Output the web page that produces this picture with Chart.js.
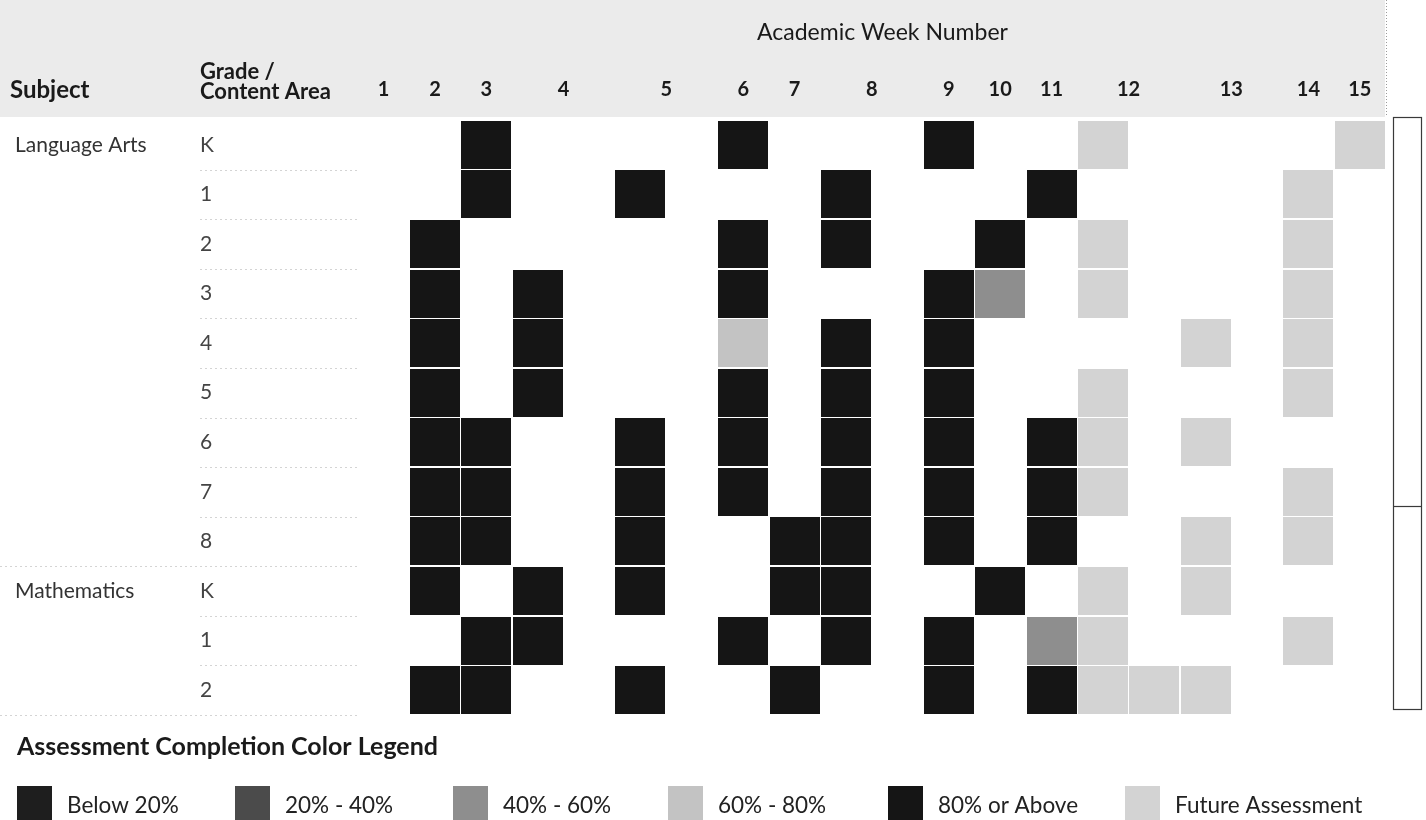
<!DOCTYPE html>
<html>
<head>
<meta charset="utf-8">
<title>Assessment Completion by Academic Week</title>
<script src="https://cdn.jsdelivr.net/npm/chart.js@4.4.1/dist/chart.umd.min.js"></script>
<style>
  html, body { margin: 0; padding: 0; background: #fff; }
  #wrap { position: relative; width: 1426px; height: 820px; }
</style>
</head>
<body>
<div id="wrap"><canvas id="assessmentChart"></canvas></div>
<script>
// Week header labels and how many assessment sub-columns each week takes
const weeks = ['1', '2', '3', '4', '5', '6', '7', '8', '9', '10', '11', '12', '13', '14', '15'];
const weekColumns = [1, 1, 1, 2, 2, 1, 1, 2, 1, 1, 1, 2, 2, 1, 1];

// Rows: subject groups and grade / content area labels
const subjects = ['Language Arts', 'Mathematics'];
const subjectRowCounts = [9, 3];
const grades = ['K', '1', '2', '3', '4', '5', '6', '7', '8', 'K', '1', '2'];

// Week numbers of each assessment, one list per row (same order as grades)
const below20Weeks = [[], [], [], [], [], [], [], [], [], [], [], []];
const pct20to40Weeks = [[], [], [], [], [], [], [], [], [], [], [], []];
const pct40to60Weeks = [[], [], [], [10], [], [], [], [], [], [], [11], []];
const pct60to80Weeks = [[], [], [], [], [6], [], [], [], [], [], [], []];
const above80Weeks = [
    [3, 6, 9],
    [3, 5, 8, 11],
    [2, 6, 8, 10],
    [2, 4, 6, 9],
    [2, 4, 8, 9],
    [2, 4, 6, 8, 9],
    [2, 3, 5, 6, 8, 9, 11],
    [2, 3, 5, 6, 8, 9, 11],
    [2, 3, 5, 7, 8, 9, 11],
    [2, 4, 5, 7, 8, 10],
    [3, 4, 6, 8, 9],
    [2, 3, 5, 7, 9, 11]
];
const futureWeeks = [
    [12, 15],
    [14],
    [12, 14],
    [12, 14],
    [13, 14],
    [12, 14],
    [12, 13],
    [12, 14],
    [13, 14],
    [12, 13],
    [12, 14],
    [12, 12, 13]
];

const statusLabels = ['Below 20%', '20% - 40%', '40% - 60%', '60% - 80%', '80% or Above', 'Future Assessment'];
const statusColors = ['#1e1e1e', '#4b4b4b', '#8e8e8e', '#c3c3c3', '#151515', '#d3d3d3'];
const statusWeeks = [below20Weeks, pct20to40Weeks, pct40to60Weeks, pct60to80Weeks, above80Weeks, futureWeeks];

const FONT = 'Lato, "Open Sans", sans-serif';

// first sub-column of every week (week 1 sits at -1 so week 2 starts at 0)
const weekStart = [];
weeks.reduce((slot, w, i) => {
    weekStart.push(slot);
    return slot + weekColumns[i];
}, -1);

// turn the per-row week lists into x/y points; a repeated week uses its next sub-column
const toPoints = (rows) => {
    const points = [];
    rows.forEach((list, row) => {
        const used = {};
        list.forEach((w) => {
            const n = used[w] || 0;
            used[w] = n + 1;
            points.push({ x: weekStart[w - 1] + n, y: row });
        });
    });
    return points;
};

// one filled tile per status, used as the point style
const cellTile = (color) => {
    const c = document.createElement('canvas');
    c.width = 50;
    c.height = 48;
    const g = c.getContext('2d');
    g.fillStyle = color;
    g.fillRect(0, 0, c.width, c.height);
    return c;
};

// header band, row labels, scrollbar and the colour legend
const tableChrome = {
    id: 'tableChrome',
    beforeDraw(chart) {
        const { ctx, chartArea } = chart;
        ctx.save();
        ctx.fillStyle = '#ebebeb';
        ctx.fillRect(0, 0, chartArea.right, chartArea.top - 3);
        ctx.strokeStyle = '#9a9a9a';
        ctx.setLineDash([1, 2]);
        ctx.beginPath();
        ctx.moveTo(chartArea.right + 1.5, 0);
        ctx.lineTo(chartArea.right + 1.5, chartArea.top - 3);
        ctx.stroke();
        ctx.restore();
    },
    afterDraw(chart) {
        const { ctx, chartArea } = chart;
        const yScale = chart.scales.y;
        ctx.save();

        // column headers
        ctx.fillStyle = '#1a1a1a';
        ctx.textBaseline = 'middle';
        ctx.textAlign = 'left';
        ctx.font = 'bold 24px ' + FONT;
        ctx.fillText('Subject', 10, 90);
        ctx.font = 'bold 22px ' + FONT;
        ctx.fillText('Grade /', 200, 72);
        ctx.fillText('Content Area', 200, 92);

        // subject labels and row separators
        ctx.font = '21px ' + FONT;
        ctx.fillStyle = '#333';
        let first = 0;
        subjects.forEach((s, i) => {
            ctx.fillText(s, 15, yScale.getPixelForValue(first));
            first += subjectRowCounts[i];
        });
        ctx.strokeStyle = '#d4d4d4';
        ctx.lineWidth = 1;
        ctx.setLineDash([2, 3]);
        const boundary = subjectRowCounts[0] - 1;
        for (let r = 0; r < grades.length; r++) {
            const y = Math.round(yScale.getPixelForValue(r + 0.5)) + 0.5;
            const x0 = (r === boundary || r === grades.length - 1) ? 0 : 200;
            ctx.beginPath();
            ctx.moveTo(x0, y);
            ctx.lineTo(chartArea.left - 20, y);
            ctx.stroke();
        }
        ctx.setLineDash([]);

        // scrollbar
        ctx.strokeStyle = '#3a3a3a';
        ctx.lineWidth = 1.2;
        ctx.strokeRect(1393.5, chartArea.top - 2.5, 28, chartArea.bottom - chartArea.top - 3);
        ctx.beginPath();
        ctx.moveTo(1393.5, 506.5);
        ctx.lineTo(1421.5, 506.5);
        ctx.stroke();

        // legend
        ctx.fillStyle = '#1a1a1a';
        ctx.font = 'bold 25px ' + FONT;
        ctx.fillText('Assessment Completion Color Legend', 17, 747);
        const legendX = [17, 235, 453, 668, 888, 1125];
        ctx.font = '22.5px ' + FONT;
        statusLabels.forEach((label, i) => {
            ctx.fillStyle = statusColors[i];
            ctx.fillRect(legendX[i], 786, 35, 34);
            ctx.fillStyle = '#222';
            ctx.fillText(label, legendX[i] + 50, 806);
        });
        ctx.restore();
    }
};

const initAssessmentChart = () => {
    const ctx = document.getElementById('assessmentChart').getContext('2d');
    new Chart(ctx, {
        type: 'scatter',
        data: {
            datasets: statusLabels.map((label, i) => ({
                label: label,
                data: toPoints(statusWeeks[i]),
                backgroundColor: statusColors[i],
                pointStyle: cellTile(statusColors[i]),
                pointRadius: 25,
                pointHoverRadius: 25
            }))
        },
        options: {
            responsive: true,
            maintainAspectRatio: false,
            animation: false,
            layout: {
                padding: { left: 200, right: 41, top: 0, bottom: 105 }
            },
            plugins: {
                legend: { display: false },
                tooltip: { enabled: false }
            },
            scales: {
                x: {
                    type: 'linear',
                    position: 'top',
                    min: -1.07,
                    max: 18.49,
                    grid: { display: false, drawTicks: false },
                    border: { display: false },
                    afterBuildTicks: (axis) => {
                        axis.ticks = weeks.map((w, i) => ({ value: weekStart[i] + (weekColumns[i] - 1) / 2 }));
                    },
                    afterFit: (axis) => { axis.height = 120; },
                    ticks: {
                        autoSkip: false,
                        maxRotation: 0,
                        padding: 18,
                        color: '#1a1a1a',
                        font: { family: FONT, size: 20, weight: 'bold' },
                        callback: (value, index) => weeks[index]
                    },
                    title: {
                        display: true,
                        text: 'Academic Week Number',
                        color: '#1a1a1a',
                        font: { family: FONT, size: 23 },
                        padding: { top: 19, bottom: 0 }
                    }
                },
                y: {
                    type: 'linear',
                    reverse: true,
                    min: -0.5,
                    max: 11.5,
                    grid: { display: false, drawTicks: false },
                    border: { display: false },
                    afterBuildTicks: (axis) => {
                        axis.ticks = grades.map((g, i) => ({ value: i }));
                    },
                    afterFit: (axis) => { axis.width = 180; },
                    ticks: {
                        autoSkip: false,
                        crossAlign: 'far',
                        color: '#444',
                        font: { family: FONT, size: 21 },
                        callback: (value, index) => grades[index]
                    }
                }
            }
        },
        plugins: [tableChrome]
    });
};

document.addEventListener('DOMContentLoaded', initAssessmentChart);
</script>
</body>
</html>
